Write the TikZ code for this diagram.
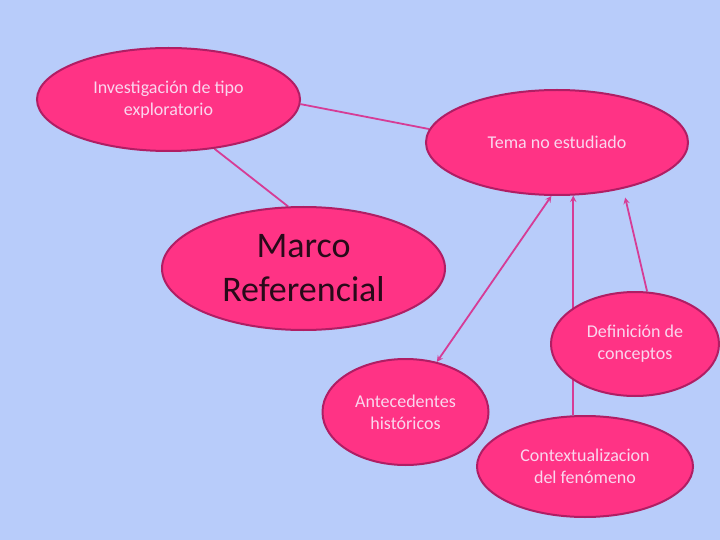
\documentclass[tikz,border=0pt]{standalone}
\usepackage{fontspec}
\setmainfont{Carlito}
\usetikzlibrary{shapes.geometric,backgrounds}

\definecolor{bgblue}{RGB}{184,204,250}
\definecolor{pinkfill}{RGB}{255,51,133}
\definecolor{rimcol}{RGB}{176,30,100}
\definecolor{linkcol}{RGB}{214,60,150}
\definecolor{paletext}{RGB}{250,214,238}
\definecolor{darktext}{RGB}{40,10,25}

\begin{document}
\begin{tikzpicture}[
    x=1pt, y=-1pt,
    bubble/.style={ellipse, draw=rimcol, fill=pinkfill, line width=2pt,
                   inner sep=0pt, align=center, text=paletext,
                   font=\fontsize{18}{22}\selectfont},
    link/.style={draw=linkcol, line width=1.8pt, >=stealth}
]
\useasboundingbox (0,0) rectangle (720,540);

% Ellipses
\node[bubble, minimum width=263pt, minimum height=103pt] (invest) at (168.5,99.5) {Investigación de tipo\\exploratorio};
\node[bubble, minimum width=262pt, minimum height=105pt] (tema) at (557,142.5) {Tema no estudiado};
\node[bubble, minimum width=283pt, minimum height=123pt, text=darktext,
      font=\fontsize{36}{44}\selectfont] (marco) at (303.5,268.5) {Marco\\Referencial};
\node[bubble, minimum width=168pt, minimum height=104pt] (defin) at (635,344) {Definición de\\conceptos};
\node[bubble, minimum width=166pt, minimum height=106pt] (antec) at (405.5,412) {Antecedentes\\históricos};
\node[bubble, minimum width=216pt, minimum height=101pt] (ctx) at (585,466.5) {Contextualizacion\\del fenómeno};

% Background and connectors
\begin{scope}[on background layer]
\fill[bgblue] (0,0) rectangle (720,540);
\draw[link] (invest.-2) -- (tema.174);
\draw[link] (invest.-47) -- (marco.104);
\draw[link, <->] (tema.-96) -- (antec.58);
\draw[link, <-] (tema.-73) -- (tema.-73 |- ctx.north);
\draw[link, <-, shorten <=9pt] (tema.-35) -- (defin.77);
\end{scope}

\end{tikzpicture}
\end{document}
